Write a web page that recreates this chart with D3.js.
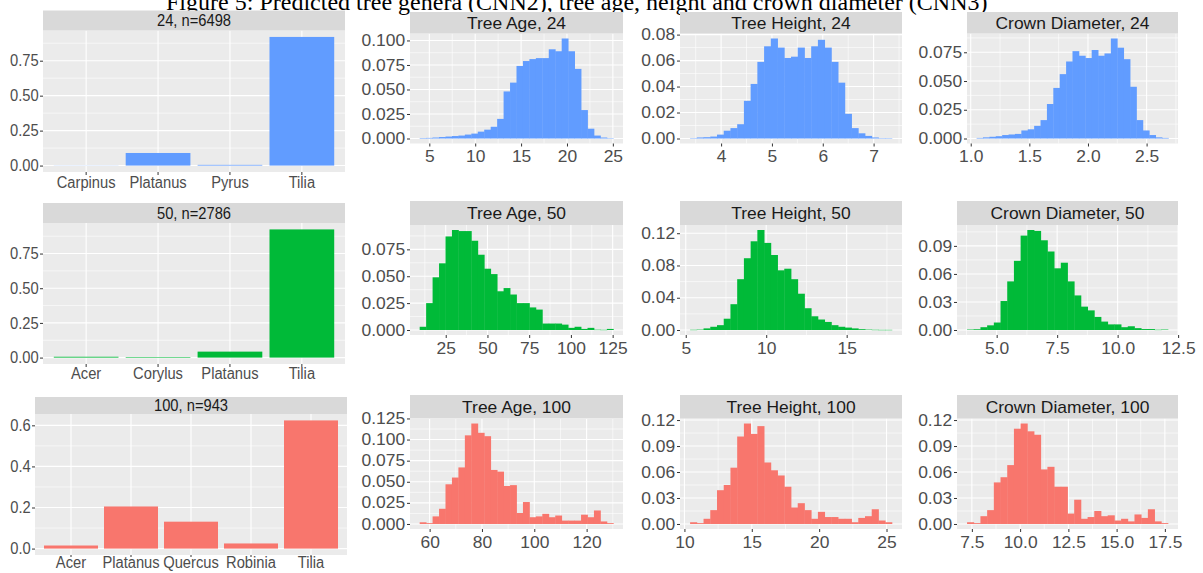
<!DOCTYPE html>
<html>
<head>
<meta charset="utf-8">
<script src="https://cdn.jsdelivr.net/npm/d3@7/dist/d3.min.js"></script>
<style>
  body { margin: 0; background: #fff; }
  svg { display: block; }
  text { font-family: "Liberation Sans", Arial, sans-serif; }
</style>
</head>
<body>
<svg width="1203" height="573"></svg>
<script>
const TITLE = 'Figure 5: Predicted tree genera (CNN2), tree age, height and crown diameter (CNN3)';

// ---------- data: genus shares ----------
const genera24 = ['Carpinus', 'Platanus', 'Pyrus', 'Tilia'];
const share24 = [0.001, 0.09, 0.005, 0.92];
const genera50 = ['Acer', 'Corylus', 'Platanus', 'Tilia'];
const share50 = [0.006, 0.004, 0.043, 0.924];
const genera100 = ['Acer', 'Platanus', 'Quercus', 'Robinia', 'Tilia'];
const share100 = [0.015, 0.205, 0.131, 0.025, 0.624];

// ---------- data: histograms (share per bin, bins span the range) ----------
const age24 = [0.0005, 0.0006, 0.001, 0.0015, 0.002, 0.0025, 0.003, 0.004, 0.005, 0.007, 0.009, 0.012, 0.020, 0.048, 0.057, 0.074, 0.079, 0.081, 0.082, 0.082, 0.091, 0.089, 0.102, 0.089, 0.071, 0.029, 0.010, 0.003, 0.001, 0.0003];
const age24Range = [3.95, 25.05];
const height24 = [0.0003, 0.0008, 0.001, 0.0015, 0.003, 0.006, 0.008, 0.011, 0.029, 0.042, 0.059, 0.071, 0.077, 0.070, 0.062, 0.063, 0.070, 0.062, 0.071, 0.076, 0.070, 0.059, 0.043, 0.019, 0.008, 0.004, 0.002, 0.0008, 0.0003, 0.0002];
const height24Range = [3.39, 7.36];
const crown24 = [0.0005, 0.001, 0.0015, 0.002, 0.003, 0.0035, 0.004, 0.007, 0.008, 0.011, 0.016, 0.030, 0.044, 0.056, 0.067, 0.076, 0.072, 0.070, 0.077, 0.072, 0.074, 0.087, 0.079, 0.069, 0.045, 0.016, 0.007, 0.003, 0.001, 0.0005];
const crown24Range = [1.05, 2.686];

const age50 = [0.003, 0.025, 0.049, 0.062, 0.087, 0.093, 0.092, 0.092, 0.083, 0.070, 0.057, 0.052, 0.036, 0.039, 0.033, 0.025, 0.025, 0.021, 0.019, 0.006, 0.006, 0.006, 0.005, 0.002, 0.003, 0.001, 0.002, 0.0003, 0.0002, 0.001];
const age50Range = [9.4, 125.4];
const height50 = [0.0003, 0.0005, 0.002, 0.004, 0.006, 0.014, 0.032, 0.063, 0.089, 0.110, 0.124, 0.108, 0.093, 0.074, 0.076, 0.063, 0.045, 0.027, 0.017, 0.013, 0.010, 0.006, 0.004, 0.003, 0.002, 0.001, 0.0005, 0.0003, 0.0002, 0.0002];
const height50Range = [5.27, 17.81];
const crown50 = [0.0005, 0.0008, 0.003, 0.005, 0.008, 0.031, 0.052, 0.074, 0.101, 0.107, 0.106, 0.096, 0.084, 0.066, 0.072, 0.052, 0.037, 0.025, 0.021, 0.014, 0.009, 0.006, 0.006, 0.003, 0.004, 0.002, 0.001, 0.001, 0.0003, 0.0005];
const crown50Range = [3.775, 12.08];

const age100 = [0.002, 0.001, 0.009, 0.018, 0.047, 0.055, 0.067, 0.105, 0.119, 0.108, 0.104, 0.064, 0.062, 0.045, 0.046, 0.013, 0.026, 0.008, 0.009, 0.012, 0.008, 0.010, 0.004, 0.004, 0.004, 0.011, 0.008, 0.016, 0.003, 0.001];
const age100Range = [56.2, 130.2];
const height100 = [0.002, 0.001, 0.006, 0.016, 0.039, 0.045, 0.065, 0.101, 0.116, 0.104, 0.113, 0.071, 0.062, 0.056, 0.043, 0.019, 0.024, 0.016, 0.006, 0.014, 0.008, 0.008, 0.006, 0.006, 0.002, 0.007, 0.009, 0.017, 0.004, 0.002];
const height100Range = [10.42, 25.4];
const crown100 = [0.002, 0.001, 0.009, 0.016, 0.048, 0.054, 0.068, 0.110, 0.116, 0.107, 0.103, 0.063, 0.066, 0.043, 0.043, 0.012, 0.028, 0.006, 0.008, 0.015, 0.009, 0.010, 0.004, 0.006, 0.003, 0.011, 0.007, 0.017, 0.003, 0.001];
const crown100Range = [7.25, 17.66];

// ---------- tick labels ----------
const shareTicks = [0, 0.25, 0.5, 0.75];
const shareTicks100 = [0, 0.2, 0.4, 0.6];
const ageTicks24 = [5, 10, 15, 20, 25];
const heightTicks24 = [4, 5, 6, 7];
const crownTicks24 = [1, 1.5, 2, 2.5];
const ageTicks50 = [25, 50, 75, 100, 125];
const heightTicks50 = [5, 10, 15];
const crownTicks50 = [5, 7.5, 10, 12.5];
const ageTicks100 = [60, 80, 100, 120];
const heightTicks100 = [10, 15, 20, 25];
const crownTicks100 = [7.5, 10, 12.5, 15, 17.5];
const yTicks025 = [0, 0.025, 0.05, 0.075, 0.1];
const yTicks025b = [0, 0.025, 0.05, 0.075];
const yTicks025c = [0, 0.025, 0.05, 0.075, 0.1, 0.125];
const yTicks02 = [0, 0.02, 0.04, 0.06, 0.08];
const yTicks04 = [0, 0.04, 0.08, 0.12];
const yTicks03 = [0, 0.03, 0.06, 0.09];
const yTicks03b = [0, 0.03, 0.06, 0.09, 0.12];

// ---------- layout & style ----------
const BLUE = '#619CFF';
const GREEN = '#00BA38';
const RED = '#F8766D';
const PANEL_BG = '#EBEBEB';
const STRIP_BG = '#D9D9D9';
const FS = 16;
const BAR_SX = 0.92;
const HIST_SX = 1.09;

const ROWS = [
  { bar: { x0: 43, x1: 345, strip: 10.5, top: 30.5, bottom: 172, tick: 3, pad: 1.5 },
    hist: { strip: 12, top: 33.5, bottom: 143.5 } },
  { bar: { x0: 43, x1: 345, strip: 203, top: 223, bottom: 364, tick: 3, pad: 0.5 },
    hist: { strip: 201, top: 225, bottom: 335 } },
  { bar: { x0: 35, x1: 347, strip: 397, top: 414, bottom: 555, tick: 2, pad: 0 },
    hist: { strip: 395, top: 418.5, bottom: 529 } },
];
const COLS = [
  [{ x0: 410, x1: 623 }, { x0: 680, x1: 902 }, { x0: 967, x1: 1178 }],
  [{ x0: 410, x1: 623 }, { x0: 680, x1: 902 }, { x0: 957, x1: 1178 }],
  [{ x0: 410, x1: 623 }, { x0: 680, x1: 902 }, { x0: 957, x1: 1178 }],
];

const svg = d3.select('svg');

// ---------- title ----------
const title = svg.append('text')
  .attr('x', 166).attr('y', 9.5)
  .style('font-family', '"Liberation Serif", "Times New Roman", serif')
  .style('font-size', '20px')
  .attr('fill', '#000')
  .text(TITLE);
const titleLen = title.node().getComputedTextLength();
title.style('font-size', (20 * 822 / titleLen) + 'px');

// ---------- helpers ----------
const minors = (major, dom) => {
  const step = major[1] - major[0];
  const ext = [major[0] - step, ...major, major[major.length - 1] + step];
  const out = [];
  for (let i = 0; i < ext.length - 1; i++) {
    const m = (ext[i] + ext[i + 1]) / 2;
    if (m > dom[0] && m < dom[1]) out.push(m);
  }
  return out;
};

const fmtFixed = (ticks) => {
  const dec = d3.max(ticks, (t) => {
    const s = String(t);
    return s.includes('.') ? s.split('.')[1].length : 0;
  });
  return d3.format('.' + dec + 'f');
};

const styleAxis = (g, sx) => {
  g.select('.domain').remove();
  g.selectAll('line').attr('stroke', '#333333').attr('stroke-width', 1);
  g.selectAll('text')
    .attr('fill', '#4D4D4D')
    .style('font-size', FS + 'px')
    .attr('transform', `scale(${sx},1)`);
};

const drawStrip = (g, x0, x1, top, bottom, label, sx) => {
  g.append('rect')
    .attr('x', x0).attr('y', top)
    .attr('width', x1 - x0).attr('height', bottom - top)
    .attr('fill', STRIP_BG);
  g.append('text')
    .attr('transform', `translate(${(x0 + x1) / 2},${(top + bottom) / 2 + FS * 0.36}) scale(${sx},1)`)
    .attr('text-anchor', 'middle')
    .attr('fill', '#1A1A1A')
    .style('font-size', FS + 'px')
    .text(label);
};

const drawGrid = (g, x, y, xMajor, xMinor, yMajor, yMinor) => {
  const [xa, xb] = x.range();
  const [ya, yb] = y.range();
  g.append('rect')
    .attr('x', xa).attr('y', yb)
    .attr('width', xb - xa).attr('height', ya - yb)
    .attr('fill', PANEL_BG);
  g.selectAll('.ymin').data(yMinor).join('line')
    .attr('x1', xa).attr('x2', xb)
    .attr('y1', (d) => y(d)).attr('y2', (d) => y(d))
    .attr('stroke', '#fff').attr('stroke-width', 0.6);
  g.selectAll('.xmin').data(xMinor).join('line')
    .attr('y1', ya).attr('y2', yb)
    .attr('x1', (d) => x(d)).attr('x2', (d) => x(d))
    .attr('stroke', '#fff').attr('stroke-width', 0.6);
  g.selectAll('.ymaj').data(yMajor).join('line')
    .attr('x1', xa).attr('x2', xb)
    .attr('y1', (d) => y(d)).attr('y2', (d) => y(d))
    .attr('stroke', '#fff').attr('stroke-width', 1.1);
  g.selectAll('.xmaj').data(xMajor).join('line')
    .attr('y1', ya).attr('y2', yb)
    .attr('x1', (d) => x(d)).attr('x2', (d) => x(d))
    .attr('stroke', '#fff').attr('stroke-width', 1.1);
};

// ---------- genus bar panels ----------
const drawBars = (box, label, cats, vals, yTicks, color) => {
  const g = svg.append('g');
  const x = d3.scaleBand().domain(cats).range([box.x0, box.x1])
    .paddingInner(0.1).paddingOuter(0.15);
  const vmax = d3.max(vals);
  const y = d3.scaleLinear().domain([-0.05 * vmax, 1.05 * vmax]).range([box.bottom, box.top]);

  const grid = g.append('g');
  drawGrid(grid, d3.scaleLinear().range([box.x0, box.x1]), y,
    [], [], yTicks, minors(yTicks, y.domain()));
  grid.selectAll('.cat').data(cats).join('line')
    .attr('y1', box.bottom).attr('y2', box.top)
    .attr('x1', (d) => x(d) + x.bandwidth() / 2).attr('x2', (d) => x(d) + x.bandwidth() / 2)
    .attr('stroke', '#fff').attr('stroke-width', 1.1);

  g.selectAll('.bar').data(cats).join('rect')
    .attr('x', (d) => x(d))
    .attr('width', x.bandwidth())
    .attr('y', (d, i) => y(vals[i]))
    .attr('height', (d, i) => Math.max(0, y(0) - y(vals[i])))
    .attr('fill', color);

  drawStrip(g, box.x0, box.x1, box.strip, box.top, label, BAR_SX);

  g.append('g').attr('transform', `translate(${box.x0},0)`)
    .call(d3.axisLeft(y).tickValues(yTicks).tickFormat(fmtFixed(yTicks)).tickSize(3).tickPadding(1.7))
    .call((a) => styleAxis(a, BAR_SX));
  g.append('g').attr('transform', `translate(0,${box.bottom})`)
    .call(d3.axisBottom(x).tickSize(box.tick).tickPadding(box.pad))
    .call((a) => styleAxis(a, BAR_SX));
};

// ---------- histogram panels ----------
const drawHist = (box, label, vals, range, xTicks, yTicks, color) => {
  const g = svg.append('g');
  const n = vals.length;
  const [lo, hi] = range;
  const w = (hi - lo) / n;
  const r = hi - lo;
  const x = d3.scaleLinear().domain([lo - 0.05 * r, hi + 0.05 * r]).range([box.x0, box.x1]);
  const vmax = d3.max(vals);
  const y = d3.scaleLinear().domain([-0.05 * vmax, 1.05 * vmax]).range([box.bottom, box.top]);

  drawGrid(g.append('g'), x, y, xTicks, minors(xTicks, x.domain()), yTicks, minors(yTicks, y.domain()));

  g.selectAll('.bin').data(vals).join('rect')
    .attr('x', (d, i) => x(lo + i * w))
    .attr('width', x(lo + w) - x(lo) + 0.4)
    .attr('y', (d) => y(d))
    .attr('height', (d) => Math.max(0.4, y(0) - y(d)))
    .attr('fill', color);

  drawStrip(g, box.x0, box.x1, box.strip, box.top, label, HIST_SX);

  g.append('g').attr('transform', `translate(${box.x0},0)`)
    .call(d3.axisLeft(y).tickValues(yTicks).tickFormat(fmtFixed(yTicks)).tickSize(3).tickPadding(1.5))
    .call((a) => styleAxis(a, HIST_SX));
  g.append('g').attr('transform', `translate(0,${box.bottom})`)
    .call(d3.axisBottom(x).tickValues(xTicks).tickFormat(fmtFixed(xTicks)).tickSize(3).tickPadding(4.5))
    .call((a) => styleAxis(a, HIST_SX));
};

const histBox = (row, col) => ({ ...ROWS[row].hist, ...COLS[row][col] });

drawBars(ROWS[0].bar, '24, n=6498', genera24, share24, shareTicks, BLUE);
drawHist(histBox(0, 0), 'Tree Age, 24', age24, age24Range, ageTicks24, yTicks025, BLUE);
drawHist(histBox(0, 1), 'Tree Height, 24', height24, height24Range, heightTicks24, yTicks02, BLUE);
drawHist(histBox(0, 2), 'Crown Diameter, 24', crown24, crown24Range, crownTicks24, yTicks025b, BLUE);

drawBars(ROWS[1].bar, '50, n=2786', genera50, share50, shareTicks, GREEN);
drawHist(histBox(1, 0), 'Tree Age, 50', age50, age50Range, ageTicks50, yTicks025b, GREEN);
drawHist(histBox(1, 1), 'Tree Height, 50', height50, height50Range, heightTicks50, yTicks04, GREEN);
drawHist(histBox(1, 2), 'Crown Diameter, 50', crown50, crown50Range, crownTicks50, yTicks03, GREEN);

drawBars(ROWS[2].bar, '100, n=943', genera100, share100, shareTicks100, RED);
drawHist(histBox(2, 0), 'Tree Age, 100', age100, age100Range, ageTicks100, yTicks025c, RED);
drawHist(histBox(2, 1), 'Tree Height, 100', height100, height100Range, heightTicks100, yTicks03b, RED);
drawHist(histBox(2, 2), 'Crown Diameter, 100', crown100, crown100Range, crownTicks100, yTicks03b, RED);
</script>
</body>
</html>
